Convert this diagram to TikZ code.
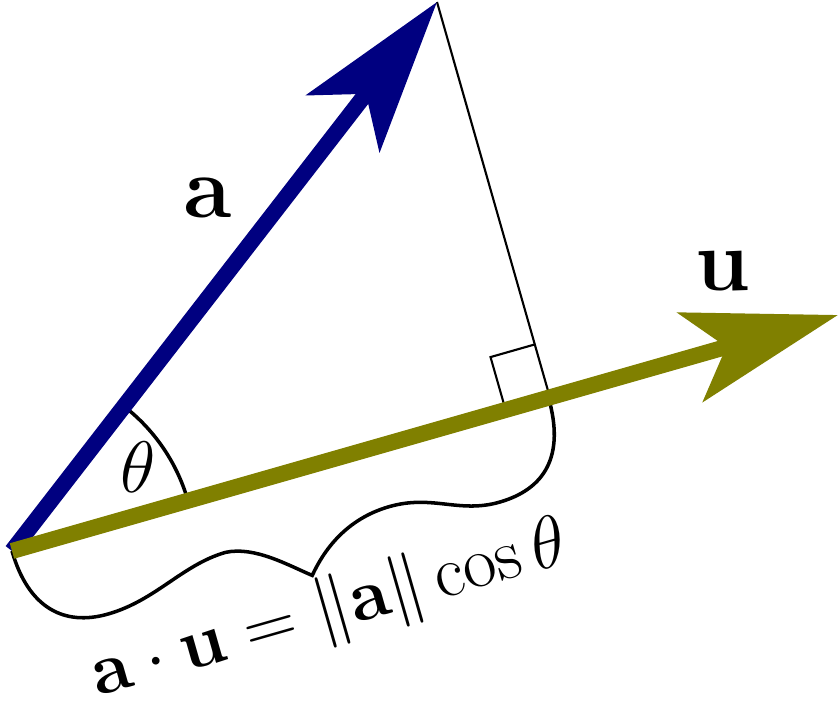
\documentclass[tikz,border=0pt]{standalone}
\usepackage{amsmath,amssymb}
\usetikzlibrary{arrows.meta,calc}
\definecolor{vecblue}{RGB}{0,0,128}
\definecolor{vecolive}{RGB}{128,128,0}
\tikzset{
  vec/.style={line width=0.16cm, -{Stealth[length=1.53cm,width=0.92cm,inset=0.37cm]}},
  thinline/.style={line width=0.6pt},
  curve/.style={line width=1pt},
  biglabel/.style={inner sep=0pt, font=\fontsize{26}{31}\selectfont},
  smalllabel/.style={inner sep=0pt, font=\fontsize{21.5}{26}\selectfont},
}
\begin{document}
\begin{tikzpicture}[x=0.01cm,y=0.01cm]
\useasboundingbox (0,0) rectangle (838,705);
\coordinate (O) at (12,154);
\coordinate (A) at (437,703);
\coordinate (U) at (838,390);
\coordinate (F) at ($(O)!(A)!(U)$);
\begin{scope}[shift={(O)}, rotate=15.95]
\draw[curve] (0,0) .. controls (0,-60) and (30,-87) .. (75,-87)
  .. controls (125,-87) and (160,-60) .. (205,-60)
  .. controls (235,-62) and (262,-90) .. (282,-106)
  .. controls (300,-85) and (330,-61) .. (375,-61)
  .. controls (420,-61) and (440,-87) .. (482,-87)
  .. controls (530,-87) and (558,-60) .. (558,0);
\draw[thinline] (F) ++(-46,0) -- ++(0,55) -- ++(46,0);
\node[smalllabel, anchor=base, transform shape] (proj) at (289,-164)
  {$\mathbf{a}\cdot\mathbf{u}=\|\mathbf{a}\|\cos\theta$};
\end{scope}
\draw[curve] ($(O)+(15.95:183)$) arc[start angle=15.95, end angle=52.26, radius=183];
\draw[thinline] (A) -- (F);
\draw[vec, vecblue] (O) -- (A);
\draw[vec, vecolive] (O) -- (U);
\node[biglabel] (la) at (207,507) {$\mathbf{a}$};
\node[biglabel] (lu) at (723,434) {$\mathbf{u}$};
\node[smalllabel] (th) at (138,238) {$\theta$};
\end{tikzpicture}
\end{document}
